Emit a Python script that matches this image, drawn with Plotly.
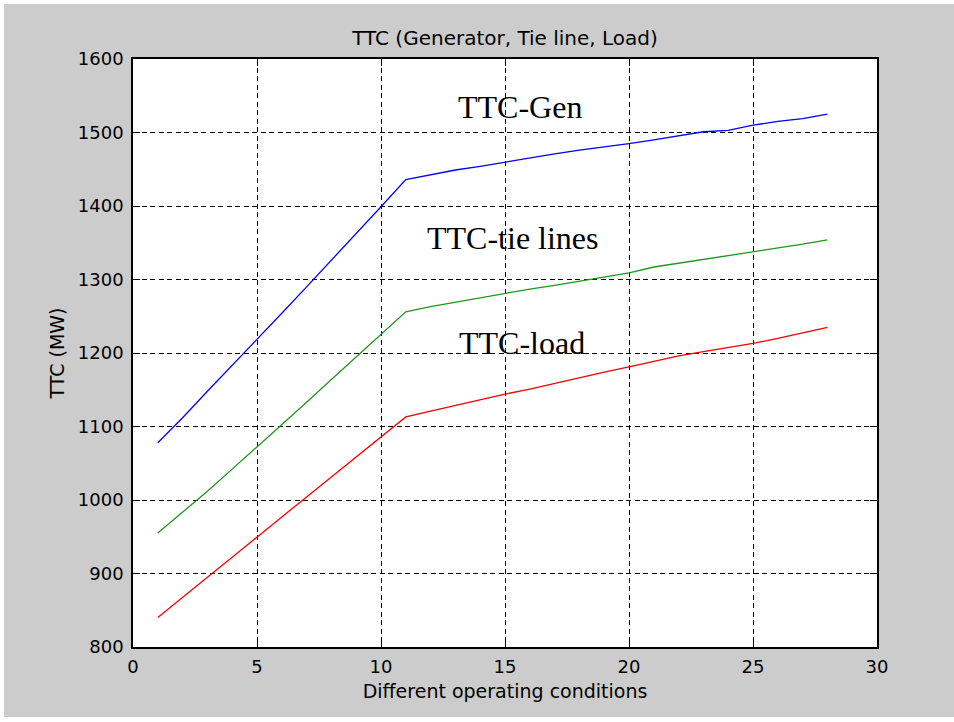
import plotly.graph_objects as go

conditions = list(range(1, 29))
ttc_gen = [1078, 1112, 1148, 1183, 1218, 1254, 1290, 1326, 1362, 1399,
           1436, 1443, 1449, 1454, 1460, 1465, 1471, 1476, 1480, 1485,
           1490, 1495, 1501, 1503, 1510, 1515, 1519, 1525]
ttc_tie = [955, 983, 1012, 1042, 1072, 1102, 1133, 1164, 1195, 1226,
           1256, 1263, 1269, 1275, 1282, 1287, 1292, 1298, 1303, 1309,
           1317, 1322, 1327, 1332, 1338, 1343, 1348, 1354]
ttc_load = [840, 868, 895, 922, 950, 977, 1004, 1031, 1058, 1086,
            1113, 1121, 1129, 1136, 1144, 1151, 1159, 1166, 1174, 1181,
            1189, 1196, 1202, 1207, 1213, 1220, 1227, 1235]

x_ticks = [0, 5, 10, 15, 20, 25, 30]
y_ticks = [800, 900, 1000, 1100, 1200, 1300, 1400, 1500, 1600]

labels = ["TTC-Gen", "TTC-tie lines", "TTC-load"]
label_pos = [(15.6, 1535), (15.32, 1356), (15.69, 1214)]

W, H = 954, 722
L, R, T, B = 133, 77, 59, 75

SANS = "DejaVu Sans, Liberation Sans, Arial, sans-serif"

fig = go.Figure()
fig.add_trace(go.Scatter(x=conditions, y=ttc_gen, mode="lines",
                         line=dict(color="#0000ff", width=1.3), name="Gen"))
fig.add_trace(go.Scatter(x=conditions, y=ttc_tie, mode="lines",
                         line=dict(color="#1e961e", width=1.3), name="Tie"))
fig.add_trace(go.Scatter(x=conditions, y=ttc_load, mode="lines",
                         line=dict(color="#ff0000", width=1.3), name="Load"))

for txt, (ax, ay) in zip(labels, label_pos):
    fig.add_annotation(x=ax, y=ay, text=txt, showarrow=False,
                       xanchor="center", yanchor="middle",
                       font=dict(family="Liberation Serif, Times New Roman, serif",
                                 size=32, color="black"))

axis_common = dict(
    showline=True, linecolor="black", linewidth=1.5, mirror="ticks",
    ticks="inside", ticklen=7, tickcolor="black", tickwidth=1,
    showgrid=True, gridcolor="black", gridwidth=1.1, griddash="5px,3.5px",
    zeroline=False,
    tickfont=dict(family=SANS, size=18, color="black"),
)

fig.update_xaxes(range=[0, 30], tickvals=x_ticks, ticktext=[str(v) for v in x_ticks],
                 title=dict(text="Different operating conditions", standoff=8,
                            font=dict(family=SANS, size=19, color="black")),
                 ticklabelstandoff=3,
                 **axis_common)
fig.update_yaxes(range=[800, 1600], tickvals=y_ticks, ticktext=[str(v) for v in y_ticks],
                 title=dict(text="TTC (MW)", standoff=8,
                            font=dict(family=SANS, size=19, color="black")),
                 ticklabelstandoff=4,
                 **axis_common)

pw = W - L - R
ph = H - T - B
shapes = [
    # thin white border strips of the original picture
    dict(type="rect", xref="paper", yref="paper", layer="above",
         x0=-0.4, x1=(4 - L) / pw, y0=-0.5, y1=1.5,
         fillcolor="white", line=dict(width=0)),
    dict(type="rect", xref="paper", yref="paper", layer="above",
         x0=-0.4, x1=1.5, y0=(H - B - 4) / ph, y1=1.5,
         fillcolor="white", line=dict(width=0)),
    dict(type="rect", xref="paper", yref="paper", layer="above",
         x0=-0.4, x1=1.5, y0=-0.5, y1=(H - B - 717) / ph,
         fillcolor="white", line=dict(width=0)),
]

fig.update_layout(
    width=W, height=H,
    margin=dict(l=L, r=R, t=T, b=B),
    paper_bgcolor="#cccccc", plot_bgcolor="white",
    showlegend=False,
    shapes=shapes,
    title=dict(text="TTC (Generator, Tie line, Load)", x=0.5, xref="paper",
               xanchor="center", y=1 - 38 / H, yanchor="middle",
               font=dict(family=SANS, size=20, color="black")),
)

fig.write_html("out.html")
